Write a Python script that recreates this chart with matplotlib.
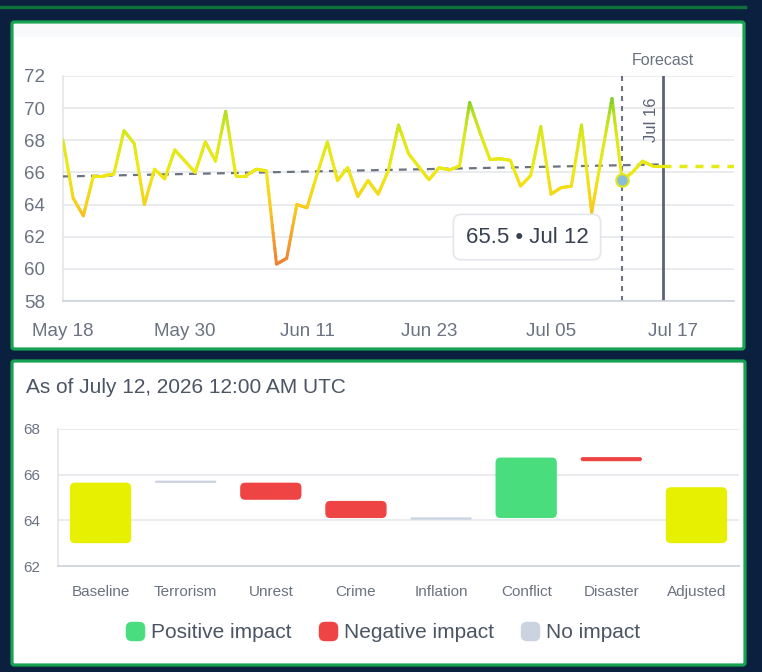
import numpy as np
import matplotlib
matplotlib.use('Agg')
import matplotlib.pyplot as plt
import matplotlib.dates as mdates
import matplotlib.patches as mpatches
from matplotlib.collections import LineCollection
from matplotlib.colors import LinearSegmentedColormap, Normalize
from matplotlib.lines import Line2D

plt.rcParams['font.family'] = ['Liberation Sans', 'DejaVu Sans']

# ---------------- data ----------------
history_start = '2026-05-18'
history_values = [
    68.0, 64.4, 63.3, 65.8, 65.8, 65.9, 68.6, 67.8, 64.0, 66.2, 65.6, 67.4, 66.7, 66.0,   # May 18-31
    67.9, 66.7, 69.8, 65.8, 65.8, 66.2, 66.1, 60.3, 60.65, 64.0, 63.8, 65.9, 67.9, 65.5,  # Jun 1-14
    66.3, 64.5, 65.5, 64.65, 66.1, 68.95, 67.15, 66.35, 65.55, 66.3, 66.15, 66.4, 70.35,  # Jun 15-27
    68.5, 66.8, 66.85,                                                                    # Jun 28-30
    66.75, 65.15, 65.8, 68.85, 64.65, 65.05, 65.15, 68.95, 63.5, 67.1, 70.6, 65.5,        # Jul 1-12
]
forecast_start = '2026-07-12'
forecast_values = [65.5, 66.0, 66.7, 66.4, 66.4]          # Jul 12 - Jul 16
tail_dates = ['2026-07-16', '2026-07-23']
tail_values = [66.4, 66.4]
trend_dates = ['2026-05-18', '2026-07-16']
trend_values = [65.75, 66.5]
selected_date = '2026-07-12'
selected_value = 65.5
forecast_date = '2026-07-16'
top_xlim = ['2026-05-18', '2026-07-23']
top_xticks = ['2026-05-18', '2026-05-30', '2026-06-11', '2026-06-23', '2026-07-05', '2026-07-17']
top_yticks = [58, 60, 62, 64, 66, 68, 70, 72]
tooltip_text = '65.5 \u2022 Jul 12'

categories = ['Baseline', 'Terrorism', 'Unrest', 'Crime', 'Inflation', 'Conflict', 'Disaster', 'Adjusted']
bar_low = [63.0, 65.64, 64.9, 64.1, 64.03, 64.1, 66.59, 63.0]
bar_high = [65.65, 65.74, 65.65, 64.85, 64.13, 66.75, 66.77, 65.45]
impact = ['total', 'none', 'negative', 'negative', 'none', 'positive', 'negative', 'total']
bottom_yticks = [62, 64, 66, 68]
title_text = 'As of July 12, 2026 12:00 AM UTC'
legend_labels = ['Positive impact', 'Negative impact', 'No impact']
legend_keys = ['positive', 'negative', 'none']

impact_colors = {'total': '#e6f000', 'none': '#cbd3e0', 'negative': '#ee4444', 'positive': '#49dd7e'}

# ---------------- figure ----------------
W, H = 762, 672
fig = plt.figure(figsize=(W / 100, H / 100), dpi=100)
fig.patch.set_facecolor('#0b1f3e')


def fx(px):
    return px / W


def fy(py):
    return 1 - py / H


# top decorative green line
fig.add_artist(Line2D([0, fx(745)], [fy(7), fy(7)], color='#10703c', lw=2.5, zorder=-2))

# cards
for (x0, y0, x1, y1) in [(12, 22, 744, 349), (12, 361, 745, 665)]:
    fig.add_artist(mpatches.FancyBboxPatch((fx(x0), fy(y1)), fx(x1 - x0), fy(y0) - fy(y1),
                                           boxstyle='round,pad=0,rounding_size=0.003',
                                           transform=fig.transFigure, fc='white', ec='#17a352',
                                           lw=2.3, zorder=-1))
fig.add_artist(mpatches.Rectangle((fx(14), fy(37)), fx(728), fy(24) - fy(37), transform=fig.transFigure,
                                  fc='#f8f9fa', ec='none', zorder=-0.5))

# ---------------- top chart ----------------
ax = fig.add_axes([fx(63), fy(301), fx(734) - fx(63), fy(76) - fy(301)])
ax.set_facecolor('none')

hist_dates = np.arange(np.datetime64(history_start), np.datetime64(history_start) + len(history_values))
fc_dates = np.arange(np.datetime64(forecast_start), np.datetime64(forecast_start) + len(forecast_values))
all_x = np.concatenate([mdates.date2num(hist_dates), mdates.date2num(fc_dates)[1:]])
all_y = np.concatenate([np.array(history_values), np.array(forecast_values)[1:]])

cmap = LinearSegmentedColormap.from_list('score', [
    (0.0, '#f07a35'), (0.2, '#f5a52a'), (0.36, '#f8cf1c'), (0.55, '#eee913'),
    (0.75, '#dde81a'), (0.88, '#b4e020'), (1.0, '#5fc22e')])
norm = Normalize(60, 71)

# subdivide for a smooth vertical gradient
xs, ys = [], []
for i in range(len(all_x) - 1):
    t = np.linspace(0, 1, 12, endpoint=False)
    xs.append(all_x[i] + (all_x[i + 1] - all_x[i]) * t)
    ys.append(all_y[i] + (all_y[i + 1] - all_y[i]) * t)
xs.append([all_x[-1]]); ys.append([all_y[-1]])
xs = np.concatenate(xs); ys = np.concatenate(ys)
pts = np.column_stack([xs, ys]).reshape(-1, 1, 2)
segs = np.concatenate([pts[:-1], pts[1:]], axis=1)
lc = LineCollection(segs, cmap=cmap, norm=norm, linewidths=2.2, capstyle='round', joinstyle='round', zorder=4)
lc.set_array((ys[:-1] + ys[1:]) / 2)
ax.add_collection(lc)

# trend
ax.plot(mdates.date2num(np.array(trend_dates, dtype='datetime64[D]')), trend_values,
        color='#6b7280', lw=1.6, ls=(0, (3.5, 2.8)), zorder=3)
# forecast tail
ax.plot(mdates.date2num(np.array(tail_dates, dtype='datetime64[D]')), tail_values,
        color='#e3ea14', lw=2.5, ls=(0, (2.3, 2.3)), zorder=3)

# vertical markers
sel_x = mdates.date2num(np.datetime64(selected_date))
fc_x = mdates.date2num(np.datetime64(forecast_date))
ax.axvline(sel_x, color='#6b7280', lw=1.5, ls=(0, (2.4, 2.4)), zorder=2)
ax.axvline(fc_x, color='#5b6475', lw=2, zorder=2)
ax.plot([sel_x], [selected_value], 'o', ms=9, mfc='#8cbdd6', mec='#dfe81a', mew=1.5, zorder=6)

ax.annotate('Forecast', xy=(fc_x, 1), xycoords=('data', 'axes fraction'), xytext=(0, 8),
            textcoords='offset pixels', ha='center', va='bottom', fontsize=11.5, color='#6b7280')
ax.annotate('Jul 16', xy=(fc_x, 1), xycoords=('data', 'axes fraction'), xytext=(-11, -44),
            textcoords='offset pixels', ha='center', va='center', rotation=90, fontsize=12, color='#5b6475')

ax.text(0.6915, 0.284, tooltip_text, transform=ax.transAxes, ha='center', va='center',
        fontsize=16, color='#374151', zorder=8,
        bbox=dict(boxstyle='round,pad=0.55,rounding_size=0.35', fc='white', ec='#e3e6eb', lw=1.2))

ax.set_xlim(mdates.date2num(np.array(top_xlim, dtype='datetime64[D]')))
ax.set_ylim(58, 72)
ax.set_yticks(top_yticks)
ax.set_xticks(mdates.date2num(np.array(top_xticks, dtype='datetime64[D]')))
ax.xaxis.set_major_formatter(mdates.DateFormatter('%b %d'))
ax.grid(axis='y', color='#e6e8ec', lw=1.2)
ax.set_axisbelow(True)
for s in ['top', 'right']:
    ax.spines[s].set_visible(False)
ax.spines['left'].set_color('#e3e6ea')
ax.spines['bottom'].set_color('#cdd2da')
ax.spines['left'].set_linewidth(1.2)
ax.spines['bottom'].set_linewidth(1.2)
ax.tick_params(length=0, labelsize=13.5, labelcolor='#6b7280')
ax.tick_params(axis='x', pad=16)
ax.tick_params(axis='y', pad=13)

# ---------------- bottom chart ----------------
fig.text(fx(26), fy(388), title_text, ha='left', va='center', fontsize=15, color='#4b5563')

ax2 = fig.add_axes([fx(58), fy(566), fx(739) - fx(58), fy(429) - fy(566)])
ax2.set_facecolor('none')
xpos = np.arange(len(categories))
heights = np.array(bar_high) - np.array(bar_low)
bars = ax2.bar(xpos, heights, bottom=bar_low, width=0.72,
               color=[impact_colors[k] for k in impact], zorder=3)
ax2.set_xlim(-0.5, len(categories) - 0.5)
ax2.set_ylim(62, 68)
fig.canvas.draw()
# replace plain rectangles by rounded ones (radius ~5 px)
px_per_x = ax2.transData.transform((1, 0))[0] - ax2.transData.transform((0, 0))[0]
px_per_y = ax2.transData.transform((0, 1))[1] - ax2.transData.transform((0, 0))[1]
for b in bars:
    x0, y0, w, h = b.get_x(), b.get_y(), b.get_width(), b.get_height()
    r_px = min(5.0, h * px_per_y / 2, w * px_per_x / 2)
    rs = r_px / px_per_x
    aspect = px_per_x / px_per_y
    patch = mpatches.FancyBboxPatch((x0, y0), w, h,
                                    boxstyle=f'round,pad=0,rounding_size={rs}',
                                    mutation_aspect=aspect, fc=b.get_facecolor(), ec='none', zorder=3)
    ax2.add_patch(patch)
    b.set_visible(False)

ax2.set_xticks(xpos)
ax2.set_xticklabels(categories)
ax2.set_yticks(bottom_yticks)
ax2.grid(axis='y', color='#e6e8ec', lw=1.2)
ax2.set_axisbelow(True)
for s in ['top', 'right']:
    ax2.spines[s].set_visible(False)
ax2.spines['left'].set_color('#e3e6ea')
ax2.spines['bottom'].set_color('#d3d7de')
ax2.spines['left'].set_linewidth(1.2)
ax2.spines['bottom'].set_linewidth(1.4)
ax2.tick_params(length=0, labelsize=11, labelcolor='#6b7280')
ax2.tick_params(axis='x', pad=14)
ax2.tick_params(axis='y', pad=13)

# legend with rounded-square markers
rr_path = mpatches.BoxStyle.Round(pad=0, rounding_size=0.32)(-0.5, -0.5, 1.0, 1.0, 1.0)
handles = [Line2D([], [], ls='', marker=rr_path, ms=14, mfc=impact_colors[k], mec='none') for k in legend_keys]
fig.legend(handles, legend_labels, loc='center', bbox_to_anchor=(fx(383), fy(633)), ncol=3, frameon=False,
           fontsize=15, labelcolor='#4b5563', handlelength=0.9, handletextpad=0.3, columnspacing=1.3)

fig.savefig('out.png', dpi=100, facecolor=fig.get_facecolor())
